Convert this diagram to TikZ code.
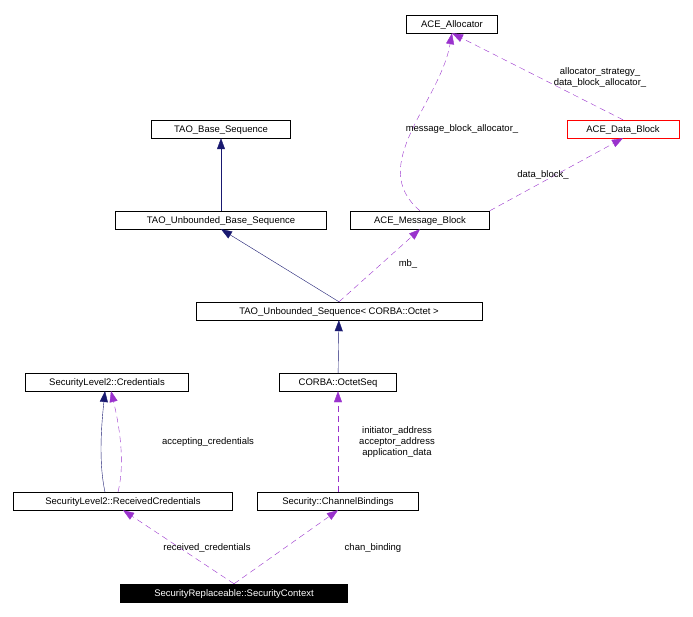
\documentclass[tikz,border=0pt]{standalone}
\usepackage{fontspec}
\setmainfont{Liberation Sans}
\usetikzlibrary{arrows.meta}
\definecolor{inherit}{RGB}{25,25,112}
\definecolor{usage}{RGB}{154,50,205}

\begin{document}
\begin{tikzpicture}[x=1pt, y=-1pt, font=\fontsize{9.5}{11}\selectfont,
    cls/.style = {draw, fill = white, inner sep = 0pt, minimum height = 18pt, text height = 1.5ex, text depth = 0.25ex},
    here/.style = {cls, fill = black, text = white},
    lbl/.style = {align = center, inner sep = 1pt, text = black},
    isa/.style = {-{Triangle[length=11pt, width=8pt]}, inherit, thin},
    uses/.style = {-{Triangle[length=11pt, width=8pt]}, usage, dashed, dash pattern=on 6pt off 4pt, thin}]
      \useasboundingbox (0,0) rectangle (693,617);
      \node[cls, minimum width = 91pt]  (alloc) at (452,24)  {ACE\_Allocator};
      \node[cls, minimum width = 112pt, draw = red] (dblock) at (623,129) {ACE\_Data\_Block};
      \node[cls, minimum width = 139pt] (bseq)  at (221,129) {TAO\_Base\_Sequence};
      \node[cls, minimum width = 211pt] (ubseq) at (221,220) {TAO\_Unbounded\_Base\_Sequence};
      \node[cls, minimum width = 139pt] (mblock) at (420,220) {ACE\_Message\_Block};
      \node[cls, minimum width = 286pt] (useq)  at (339,311) {TAO\_Unbounded\_Sequence< CORBA::Octet >};
      \node[cls, minimum width = 163pt] (cred)  at (107,382) {SecurityLevel2::Credentials};
      \node[cls, minimum width = 117pt] (oseq)  at (338,382) {CORBA::OctetSeq};
      \node[cls, minimum width = 219pt] (rcred) at (123,501) {SecurityLevel2::ReceivedCredentials};
      \node[cls, minimum width = 161pt] (bind)  at (338,501) {Security::ChannelBindings};
      \node[here, minimum width = 227pt] (ctx)  at (234,593) {SecurityReplaceable::SecurityContext};

      % inheritance
      \path[isa] (ubseq) edge (bseq)
                 (useq.north) edge (ubseq.south)
                 (oseq) edge (useq);
      \draw[isa] (105,492) .. controls (98,460) and (102,420) .. (105,391);
      % members
      \path[uses] (useq.north) edge (mblock.south)
                  (mblock.north) edge[out=140, in=-100] (alloc.south)
                  (dblock.north) edge (alloc.south)
                  (mblock.north east) edge (dblock.south)
                  (bind) edge (oseq)
                  (ctx.north) edge (rcred.south)
                  (ctx.north) edge (bind.south);
      \draw[uses] (118,492) .. controls (126,460) and (118,420) .. (111,391);
      % member names
      \node[lbl] (mbname)    at (408,264) {mb\_};
      \node[lbl] (mbaname)   at (462,129) {message\_block\_allocator\_};
      \node[lbl] (allocname) at (600,78)  {allocator\_strategy\_\\data\_block\_allocator\_};
      \node[lbl] (dbname)    at (543,175) {data\_block\_};
      \node[lbl] (accname)   at (208,442) {accepting\_credentials};
      \node[lbl] (addrname)  at (397,442) {initiator\_address\\acceptor\_address\\application\_data};
      \node[lbl] (rcname)    at (207,548) {received\_credentials};
      \node[lbl] (cbname)    at (373,548) {chan\_binding};
    \end{tikzpicture}
\end{document}
